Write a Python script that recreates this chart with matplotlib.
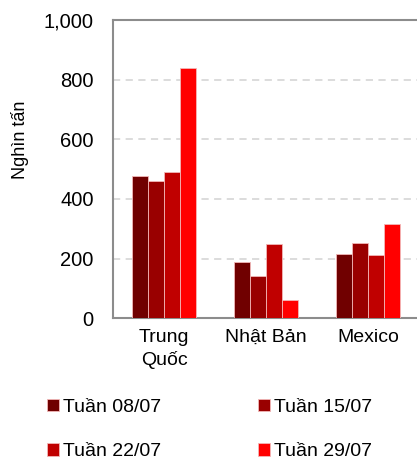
import matplotlib.pyplot as plt
import numpy as np
from matplotlib.ticker import FuncFormatter

plt.rcParams['font.family'] = ['Liberation Sans', 'DejaVu Sans']

countries = ["Trung\nQuốc", "Nhật Bản", "Mexico"]
weeks = ["Tuần 08/07", "Tuần 15/07", "Tuần 22/07", "Tuần 29/07"]
week_0807 = [476, 189, 214]
week_1507 = [459, 141, 252]
week_2207 = [489, 249, 212]
week_2907 = [838, 62, 315]
colors = ["#700000", "#990000", "#C00000", "#FF0000"]

series = [week_0807, week_1507, week_2207, week_2907]

fig = plt.figure(figsize=(4.17, 4.59), dpi=100)
# plot area runs past the right edge of the canvas
ax = fig.add_axes([0.271, 0.307, 0.76, 0.649])

x = np.arange(len(countries))
w = 0.156
handles = []
for i, (vals, c, lab) in enumerate(zip(series, colors, weeks)):
    b = ax.bar(x + (i - 1.5) * w, vals, width=w, color=c, label=lab,
               edgecolor="#f2b8b8", linewidth=0.6, zorder=3)
    handles.append(b)

ax.set_xlim(-0.5, 2.608)
ax.set_ylim(0, 1000)
ax.set_yticks(range(0, 1001, 200))
ax.yaxis.set_major_formatter(FuncFormatter(lambda v, p: f"{int(v):,}"))
ax.set_xticks(x)
ax.set_xticklabels(countries, fontsize=14, linespacing=1.35)
ax.tick_params(axis='y', length=0, pad=14, labelsize=14.5)
ax.tick_params(axis='x', length=0, pad=8)

ax.grid(axis='y', color='#d9d9d9', linestyle=(0, (4, 3)), linewidth=1.3, zorder=0)
for s in ['left', 'bottom', 'top']:
    ax.spines[s].set_color('#8c8c8c')
    ax.spines[s].set_linewidth(1.5)
ax.spines['right'].set_visible(False)

ax.set_ylabel("Nghìn tấn", fontsize=13)
ax.yaxis.set_label_coords(-0.265, 0.6)

# legend fills row by row: 08/07, 15/07 on top, 22/07, 29/07 below
order = [0, 2, 1, 3]
fig.legend(handles=[handles[i] for i in order], labels=[weeks[i] for i in order],
           loc='upper left', bbox_to_anchor=(0.09, 0.152), ncol=2, frameon=False,
           fontsize=14, handlelength=0.6, handleheight=0.6,
           handletextpad=0.2, columnspacing=5.0, labelspacing=1.4,
           borderpad=0)

fig.savefig("out.png", dpi=100)
